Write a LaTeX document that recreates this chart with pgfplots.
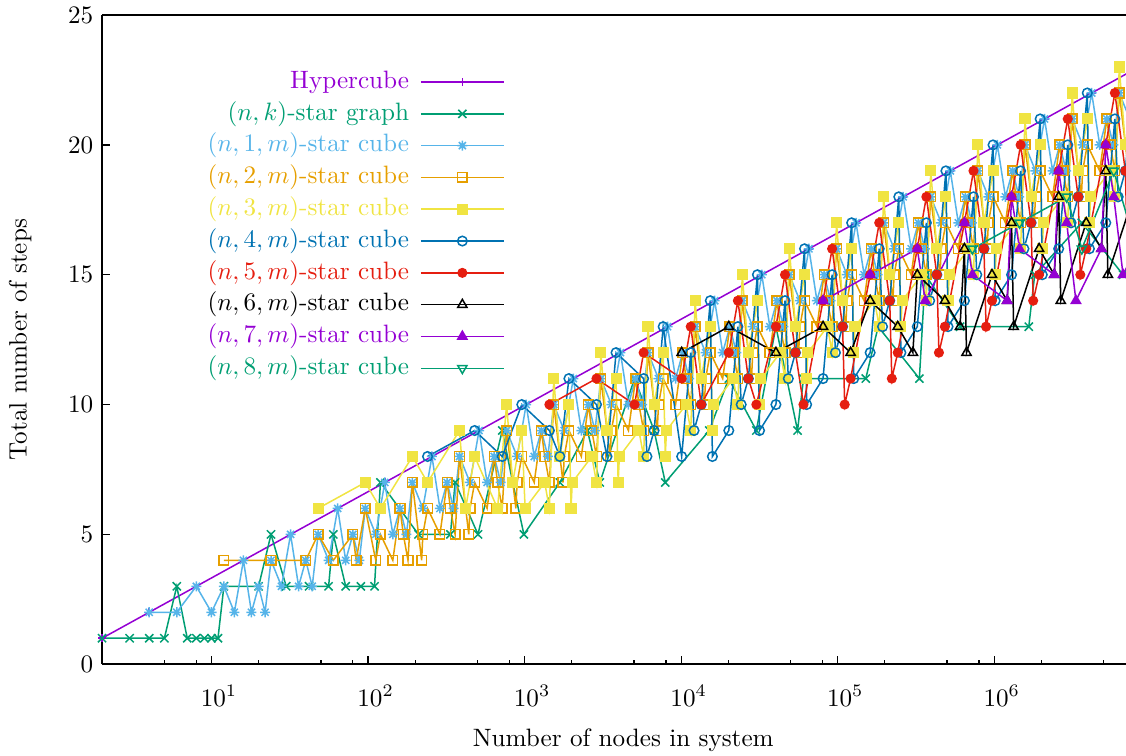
\documentclass[border=0pt]{standalone}
\usepackage{pgfplots}
\pgfplotsset{compat=1.18}
\definecolor{c1}{HTML}{9400D3}
\definecolor{c2}{HTML}{009E73}
\definecolor{c3}{HTML}{56B4E9}
\definecolor{c4}{HTML}{E69F00}
\definecolor{c5}{HTML}{F0E442}
\definecolor{c6}{HTML}{0072B2}
\definecolor{c7}{HTML}{E51E10}
% gnuplot style asterisk: + and x together
\pgfdeclareplotmark{gpstar}{%
  \pgfpathmoveto{\pgfqpoint{\pgfplotmarksize}{0pt}}\pgfpathlineto{\pgfqpoint{-\pgfplotmarksize}{0pt}}%
  \pgfpathmoveto{\pgfqpoint{0pt}{\pgfplotmarksize}}\pgfpathlineto{\pgfqpoint{0pt}{-\pgfplotmarksize}}%
  \pgfpathmoveto{\pgfqpoint{.707\pgfplotmarksize}{.707\pgfplotmarksize}}\pgfpathlineto{\pgfqpoint{-.707\pgfplotmarksize}{-.707\pgfplotmarksize}}%
  \pgfpathmoveto{\pgfqpoint{-.707\pgfplotmarksize}{.707\pgfplotmarksize}}\pgfpathlineto{\pgfqpoint{.707\pgfplotmarksize}{-.707\pgfplotmarksize}}%
  \pgfusepathqstroke}
\begin{document}
\begin{tikzpicture}
\begin{axis}[
  name=ax,
  scale only axis,
  width=407.3pt, height=258.2pt,
  xmode=log,
  xmin=2, xmax=6.95e6,
  ymin=0, ymax=25,
  ytick={0,5,...,25},
  xtick={10,100,1000,10000,100000,1000000},
  minor xtick={5,8,20,50,80,200,500,800,2000,5000,8000,20000,50000,80000,200000,500000,800000,2000000,5000000},
  axis x line*=box, axis y line*=left,
  xtick pos=bottom, ytick pos=left,
  tick align=inside,
  major tick length=3.2pt, minor tick length=1.6pt,
  tick style={black, line width=0.5pt},
  axis line style={line width=0.7pt},
  xticklabel style={yshift=-5pt, xshift=3pt},
  xlabel={Number of nodes in system},
  ylabel={Total number of steps},
  xlabel style={at={(axis description cs:0.509,-0.117)}, anchor=center},
  ylabel style={at={(axis description cs:-0.08,0.5)}, anchor=center},
  every axis plot/.append style={line width=0.6pt},
  legend plot pos=right,
  legend cell align=right,
  legend image code/.code={\draw[mark repeat=2,mark phase=2,#1] plot coordinates {(0pt,0pt) (16.5pt,0pt) (33pt,0pt)};},
  legend style={at={(axis description cs:0.3936,0.917)}, anchor=north east, draw=none, fill=none, inner sep=0pt,
    row sep=2.65pt, column sep=4.4pt,
    nodes={inner sep=0pt, text height=7.5pt, text depth=2.5pt}},
]
\addplot[color=c1, mark=+, mark size=1.6pt] coordinates {
(2,1)(4,2)(8,3)(16,4)(32,5)(64,6)(128,7)(256,8)(512,9)(1024,10)(2048,11)(4096,12)(8192,13)(16384,14)(32768,15)(65536,16)(131072,17)(262144,18)(524288,19)(1048576,20)(2097152,21)(4194304,22)(8388608,23)(16777216,24)};
\addlegendentry{\textcolor{c1}{Hypercube}}

\addplot[color=c2, mark=x, mark size=2.3pt] coordinates {
(2,1)(3,1)(4,1)(5,1)(6,3)(7,1)(8,1)(9,1)(10,1)(11,1)(12,3)(20,3)(24,5)(30,3)(42,3)(56,3)(60,5)(72,3)(90,3)(110,3)(120,7)(210,5)(336,5)(360,7)(504,5)(720,9)(840,7)(990,5)(1680,7)(2520,9)(3024,7)(5040,11)(6720,9)(7920,7)(15120,9)(20160,11)(30240,9)(40320,13)(55440,9)(60480,11)(151200,11)(181440,13)(332640,11)(362880,15)(604800,13)(1663200,13)(1814400,15)(3628800,17)(6652800,15)(19958400,17)};
\addlegendentry{\textcolor{c2}{$(n,k)$-star graph}}

\addplot[color=c3, mark=gpstar, mark size=2pt] coordinates {
(4,2)(6,2)
(8,3)(10,2)(12,3)(14,2)
(16,4)(18,2)(20,3)(22,2)(24,4)(28,3)
(32,5)(36,3)(40,4)(44,3)(48,5)(56,4)
(64,6)(72,4)(80,5)(88,4)(96,6)(112,5)
(128,7)(144,5)(160,6)(176,5)(192,7)(224,6)
(256,8)(288,6)(320,7)(352,6)(384,8)(448,7)
(512,9)(576,7)(640,8)(704,7)(768,9)(896,8)
(1024,10)(1152,8)(1280,9)(1408,8)(1536,10)(1792,9)
(2048,11)(2304,9)(2560,10)(2816,9)(3072,11)(3584,10)
(4096,12)(4608,10)(5120,11)(5632,10)(6144,12)(7168,11)
(8192,13)(9216,11)(10240,12)(11264,11)(12288,13)(14336,12)
(16384,14)(18432,12)(20480,13)(22528,12)(24576,14)(28672,13)
(32768,15)(36864,13)(40960,14)(45056,13)(49152,15)(57344,14)
(65536,16)(73728,14)(81920,15)(90112,14)(98304,16)(114688,15)
(131072,17)(147456,15)(163840,16)(180224,15)(196608,17)(229376,16)
(262144,18)(294912,16)(327680,17)(360448,16)(393216,18)(458752,17)
(524288,19)(589824,17)(655360,18)(720896,17)(786432,19)(917504,18)
(1048576,20)(1179648,18)(1310720,19)(1441792,18)(1572864,20)(1835008,19)
(2097152,21)(2359296,19)(2621440,20)(2883584,19)(3145728,21)(3670016,20)
(4194304,22)(4718592,20)(5242880,21)(5767168,20)(6291456,22)(7340032,21)};
\addlegendentry{\textcolor{c3}{$(n,1,m)$-star cube}}

\addplot[color=c4, mark=square, mark size=1.9pt] coordinates {
(12,4)
(24,4)
(40,4)(48,5)(60,4)
(80,5)(84,4)(96,6)(112,4)(120,5)
(144,4)(160,6)(168,5)(180,4)(192,7)(220,4)(224,5)(240,6)
(288,5)(320,7)(336,6)(360,5)(384,8)(440,5)(448,6)(480,7)
(576,6)(640,8)(672,7)(720,6)(768,9)(880,6)(896,7)(960,8)
(1152,7)(1280,9)(1344,8)(1440,7)(1536,10)(1760,7)(1792,8)(1920,9)
(2304,8)(2560,10)(2688,9)(2880,8)(3072,11)(3520,8)(3584,9)(3840,10)
(4608,9)(5120,11)(5376,10)(5760,9)(6144,12)(7040,9)(7168,10)(7680,11)
(9216,10)(10240,12)(10752,11)(11520,10)(12288,13)(14080,10)(14336,11)(15360,12)
(18432,11)(20480,13)(21504,12)(23040,11)(24576,14)(28160,11)(28672,12)(30720,13)
(36864,12)(40960,14)(43008,13)(46080,12)(49152,15)(56320,12)(57344,13)(61440,14)
(73728,13)(81920,15)(86016,14)(92160,13)(98304,16)(112640,13)(114688,14)(122880,15)
(147456,14)(163840,16)(172032,15)(184320,14)(196608,17)(225280,14)(229376,15)(245760,16)
(294912,15)(327680,17)(344064,16)(368640,15)(393216,18)(450560,15)(458752,16)(491520,17)
(589824,16)(655360,18)(688128,17)(737280,16)(786432,19)(901120,16)(917504,17)(983040,18)
(1179648,17)(1310720,19)(1376256,18)(1474560,17)(1572864,20)(1802240,17)(1835008,18)(1966080,19)
(2359296,18)(2621440,20)(2752512,19)(2949120,18)(3145728,21)(3604480,18)(3670016,19)(3932160,20)
(4718592,19)(5242880,21)(5505024,20)(5898240,19)(6291456,22)(7208960,19)(7340032,20)(7864320,21)};
\addlegendentry{\textcolor{c4}{$(n,2,m)$-star cube}}

\addplot[color=c5, mark=square*, mark size=1.9pt] coordinates {
(48,6)
(96,7)(120,6)
(192,8)(240,7)
(384,9)(420,6)(480,8)
(672,6)(768,10)(840,7)(960,9)(1008,6)
(1344,7)(1440,6)(1536,11)(1680,8)(1920,10)(1980,6)(2016,7)
(2688,8)(2880,7)(3072,12)(3360,9)(3840,11)(3960,7)(4032,8)
(5376,9)(5760,8)(6144,13)(6720,10)(7680,12)(7920,8)(8064,9)
(10752,10)(11520,9)(12288,14)(13440,11)(15360,13)(15840,9)(16128,10)
(21504,11)(23040,10)(24576,15)(26880,12)(30720,14)(31680,10)(32256,11)
(43008,12)(46080,11)(49152,16)(53760,13)(61440,15)(63360,11)(64512,12)
(86016,13)(92160,12)(98304,17)(107520,14)(122880,16)(126720,12)(129024,13)
(172032,14)(184320,13)(196608,18)(215040,15)(245760,17)(253440,13)(258048,14)
(344064,15)(368640,14)(393216,19)(430080,16)(491520,18)(506880,14)(516096,15)
(688128,16)(737280,15)(786432,20)(860160,17)(983040,19)(1013760,15)(1032192,16)
(1376256,17)(1474560,16)(1572864,21)(1720320,18)(1966080,20)(2027520,16)(2064384,17)
(2752512,18)(2949120,17)(3145728,22)(3440640,19)(3932160,21)(4055040,17)(4128768,18)
(5505024,19)(5898240,18)(6291456,23)(6881280,20)(7864320,22)(8110080,18)(8257536,19)};
\addlegendentry{\textcolor{c5}{$(n,3,m)$-star cube}}

\addplot[color=c6, mark=o, mark size=1.9pt] coordinates {
(240,8)
(480,9)
(720,8)(960,10)
(1440,9)(1680,8)(1920,11)
(2880,10)(3360,8)(3840,12)
(5760,11)(6048,8)(6720,9)(7680,13)
(10080,8)(11520,12)(12096,9)(13440,10)(15360,14)(15840,8)
(20160,9)(23040,13)(24192,10)(26880,11)(30720,15)(31680,9)
(40320,10)(46080,14)(48384,11)(53760,12)(61440,16)(63360,10)
(80640,11)(92160,15)(96768,12)(107520,13)(122880,17)(126720,11)
(161280,12)(184320,16)(193536,13)(215040,14)(245760,18)(253440,12)
(322560,13)(368640,17)(387072,14)(430080,15)(491520,19)(506880,13)
(645120,14)(737280,18)(774144,15)(860160,16)(983040,20)(1013760,14)
(1290240,15)(1474560,19)(1548288,16)(1720320,17)(1966080,21)(2027520,15)
(2580480,16)(2949120,20)(3096576,17)(3440640,18)(3932160,22)(4055040,16)
(5160960,17)(5898240,21)(6193152,18)(6881280,19)(7864320,23)(8110080,17)};
\addlegendentry{\textcolor{c6}{$(n,4,m)$-star cube}}

\addplot[color=c7, mark=*, mark size=1.7pt] coordinates {
(1440,10)
(2880,11)
(5040,10)(5760,12)
(10080,11)(11520,13)(13440,10)
(20160,12)(23040,14)(26880,11)(30240,10)
(40320,13)(46080,15)(53760,12)(60480,10)
(80640,14)(92160,16)(107520,13)(110880,10)(120960,11)
(161280,15)(184320,17)(215040,14)(221760,11)(241920,12)
(322560,16)(368640,18)(430080,15)(443520,12)(483840,13)
(645120,17)(737280,19)(860160,16)(887040,13)(967680,14)
(1290240,18)(1474560,20)(1720320,17)(1774080,14)(1935360,15)
(2580480,19)(2949120,21)(3440640,18)(3548160,15)(3870720,16)
(5160960,20)(5898240,22)(6881280,19)(7096320,16)(7741440,17)};
\addlegendentry{\textcolor{c7}{$(n,5,m)$-star cube}}

\addplot[color=black, mark=triangle, mark size=2.1pt] coordinates {
(10080,12)
(20160,13)
(40320,12)
(80640,13)(120960,12)
(161280,14)(241920,13)
(302400,12)(322560,15)(483840,14)
(604800,13)(645120,16)(665280,12)(967680,15)
(1209600,14)(1290240,17)(1330560,13)(1935360,16)
(2419200,15)(2580480,18)(2661120,14)(3870720,17)
(4838400,16)(5160960,19)(5322240,15)(7741440,18)};
\addlegendentry{$(n,6,m)$-star cube}

\addplot[color=c1, mark=triangle*, mark size=2.1pt] coordinates {
(80640,14)
(161280,15)
(322560,16)(362880,14)
(645120,17)(725760,15)
(1209600,14)(1290240,18)(1451520,16)
(2419200,15)(2580480,19)(2903040,17)(3326400,14)
(4838400,16)(5160960,20)(5806080,18)(6652800,15)
(9676800,17)};
\addlegendentry{\textcolor{c1}{$(n,7,m)$-star cube}}

\addplot[color=c2, mark=triangle, mark size=2.1pt, mark options={rotate=180}] coordinates {
(725760,16)
(1451520,17)
(2903040,18)(3628800,16)
(5806080,19)(7257600,17)};
\addlegendentry{\textcolor{c2}{$(n,8,m)$-star cube}}
\end{axis}
\pgfresetboundingbox
\path[use as bounding box] ([xshift=-40.6pt,yshift=-36.2pt]ax.south west) rectangle ([yshift=6pt]ax.north east);
\end{tikzpicture}
\end{document}
